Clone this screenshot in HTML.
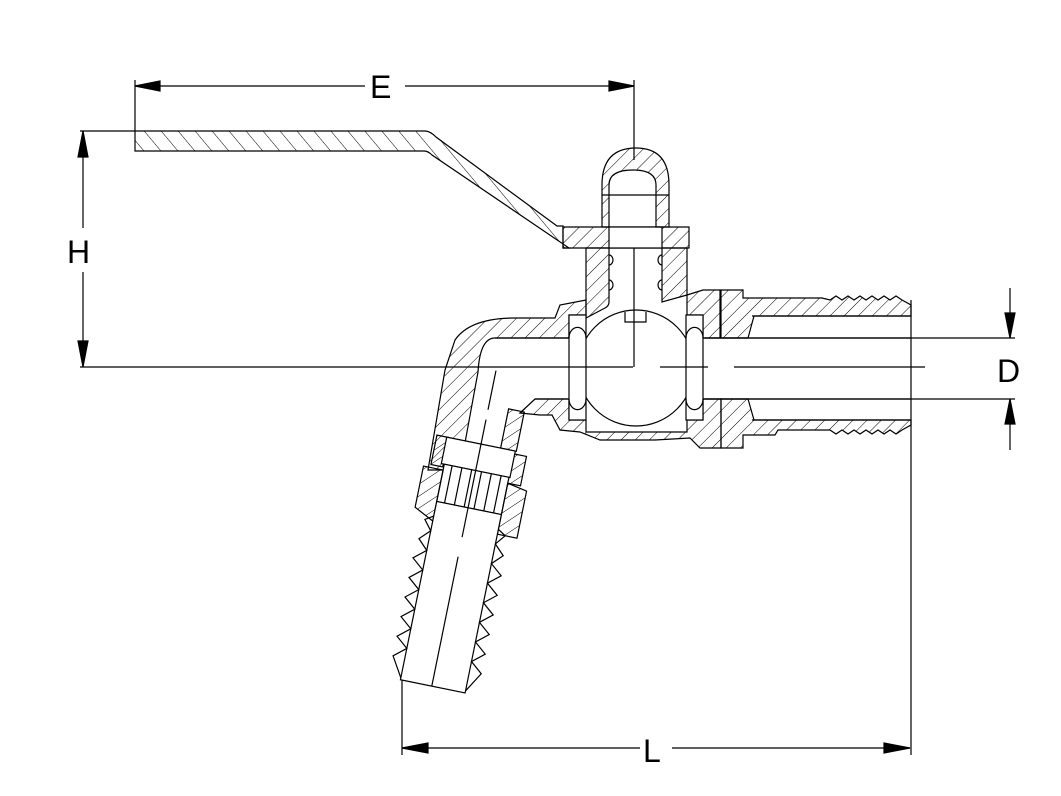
<!DOCTYPE html>
<html><head><meta charset="utf-8"><style>
html,body{margin:0;padding:0;background:#fff;}
svg{display:block;}
text{font-family:"Liberation Sans",sans-serif;font-size:32px;fill:#000;}
</style></head><body>
<svg width="1061" height="796" viewBox="0 0 1061 796" xmlns="http://www.w3.org/2000/svg">
<defs>
<pattern id="hf" width="10" height="10" patternUnits="userSpaceOnUse" patternTransform="rotate(45)">
<line x1="0" y1="0" x2="0" y2="10" stroke="#000" stroke-width="1"/></pattern>
<pattern id="hb" width="13" height="13" patternUnits="userSpaceOnUse" patternTransform="rotate(-40)">
<line x1="0" y1="0" x2="0" y2="13" stroke="#000" stroke-width="1"/></pattern>
</defs>
<g fill="none" stroke="#000" stroke-width="1.2">
<line x1="135" y1="86" x2="365" y2="86"/><line x1="405" y1="86" x2="634" y2="86"/>
<polygon points="135,86 160,81 160,91" fill="#000"/>
<polygon points="634,86 609,81 609,91" fill="#000"/>
<line x1="135" y1="80" x2="135" y2="131"/>
<line x1="634" y1="80" x2="634" y2="160"/>
<line x1="80" y1="131" x2="135" y2="131"/>
<line x1="83" y1="131" x2="83" y2="228"/><line x1="83" y1="272" x2="83" y2="367"/>
<polygon points="83,131 78,157 88,157" fill="#000"/>
<polygon points="83,367 78,341 88,341" fill="#000"/>
<line x1="80" y1="367" x2="460" y2="367"/>
<line x1="705" y1="338" x2="1015" y2="338"/><line x1="705" y1="399" x2="1015" y2="399"/>
<line x1="1010" y1="288" x2="1010" y2="338"/><line x1="1010" y1="399" x2="1010" y2="450"/>
<polygon points="1010,338 1005,313 1015,313" fill="#000"/>
<polygon points="1010,399 1005,424 1015,424" fill="#000"/>
<line x1="402" y1="748" x2="640" y2="748"/><line x1="672" y1="748" x2="910" y2="748"/>
<polygon points="402,748 428,743 428,753" fill="#000"/>
<polygon points="910,748 884,743 884,753" fill="#000"/>
<line x1="911" y1="300" x2="911" y2="755"/>
<line x1="402" y1="676" x2="402" y2="755"/>

<path d="M135,131 H425 Q430,131 436,137 L557,226 H563 V248 H569 L432,155 Q428,151 424,151 H135 Z" fill="url(#hb)"/>
<path d="M563,227 H689 V248 H563 Z" fill="url(#hf)"/>
<rect x="609" y="227" width="53" height="21" fill="#fff"/>
<path d="M602,227 V185 Q602,148 636,148 Q669,148 669,185 V227 H656 V185 Q656,170 633,170 Q609,170 609,185 V227 Z" fill="url(#hf)"/>
<line x1="602" y1="195" x2="669" y2="195"/>
<path d="M586,248 H609 V302 Q609,306 605,308 L586,318 Z" fill="url(#hf)"/>
<path d="M662,248 H687 V295 L662,302 Z" fill="url(#hf)"/>
<path d="M609,255 a4,5 0 0 1 0,10 M609,280 a4,5 0 0 1 0,10"/>
<path d="M662,255 a4,5 0 0 0 0,10 M662,280 a4,5 0 0 0 0,10"/>
<path d="M569,315 H586 L586,300 L560,305 L555,318 H515 Q470,318 455,340 L445,370 L428,470 L460,470 L478,372 Q480,338 495,338 H569 Z" fill="url(#hf)"/>
<path d="M687,295 L703,290 H720 V338 H703 V315 H687 Z" fill="url(#hf)"/>
<path d="M721,290 H743 V298 H778 L800,298 H822 L830,300 L836,296 L842,300 L848,296 L854,300 L860,296 L866,300 L872,296 L878,300 L884,296 L890,300 L896,296 L902,300 L911,305 V316 H754 L748,338 H721 Z" fill="url(#hf)"/>
<path d="M721,399 H748 L754,420 H911 V425 L902,430 L896,434 L890,430 L884,434 L878,430 L872,434 L866,430 L860,434 L854,430 L848,434 L842,430 L836,434 L830,430 L822,430 H778 L775,435 H743 V448 H721 Z" fill="url(#hf)"/>
<path d="M520,413 L535,399 H569 V420 H586 V432 H687 V420 H703 V399 H721 V448 H700 L690,438 L655,440 H600 L580,432 L560,430 L552,415 L540,415 Z" fill="url(#hf)"/>
<line x1="495" y1="338" x2="911" y2="338"/><line x1="535" y1="399" x2="911" y2="399"/>
<line x1="752" y1="316" x2="911" y2="316"/><line x1="752" y1="420" x2="911" y2="420"/>
<circle cx="636" cy="368" r="58" fill="#fff"/>
<rect x="569" y="315" width="17" height="105" fill="#fff"/>
<rect x="686" y="315" width="17" height="105" fill="#fff"/>
<path d="M586,338 a8,10 0 0 0 -17,0 M586,399 a8,10 0 0 1 -17,0"/>
<path d="M703,338 a8,10 0 0 0 -17,0 M703,399 a8,10 0 0 1 -17,0"/>
<path d="M625,312 V322 H646 V312" fill="#fff"/>
<line x1="634" y1="248" x2="634" y2="367"/>
<line x1="460" y1="367" x2="633" y2="367"/><line x1="660" y1="367" x2="708" y2="367"/><line x1="734" y1="367" x2="925" y2="367"/>
<g transform="rotate(11.5 490 400)">
<path d="M510,405 L526,405 L526,445 L510,445 Z" fill="url(#hf)"/>
<path d="M445,445 H457 V475 H445 Z" fill="url(#hf)"/>
<path d="M523,448 H537 V478 H523 Z" fill="url(#hf)"/>
<rect x="455" y="445" width="70" height="27" fill="#fff"/>
<rect x="458" y="472" width="66" height="38" fill="#fff"/>
<line x1="466" y1="472" x2="466" y2="510"/><line x1="476" y1="472" x2="476" y2="510"/><line x1="486" y1="472" x2="486" y2="510"/>
<line x1="496" y1="472" x2="496" y2="510"/><line x1="506" y1="472" x2="506" y2="510"/><line x1="516" y1="472" x2="516" y2="510"/>
<path d="M438,478 L458,478 L458,530 L438,520 Z" fill="url(#hf)"/>
<path d="M524,478 L544,482 L544,530 L524,530 Z" fill="url(#hf)"/>
<rect x="458" y="510" width="66" height="182" fill="#fff"/>
<path d="M458,525 L450,530 L458,540 L448,550 L458,560 L446,570 L458,580 L446,590 L458,600 L446,610 L458,620 L446,630 L458,640 L446,650 L458,660 L446,670 L458,690"/>
<path d="M524,525 L532,530 L524,540 L534,550 L524,560 L536,570 L524,580 L536,590 L524,600 L536,610 L524,620 L536,630 L524,640 L536,650 L524,660 L536,670 L524,690"/>
<line x1="490" y1="420" x2="490" y2="540"/><line x1="490" y1="560" x2="490" y2="692"/>
<line x1="490" y1="370" x2="490" y2="410"/>
</g>
</g>
<text x="370" y="98">E</text>
<text x="67" y="263">H</text>
<text x="997" y="382">D</text>
<text x="643" y="762">L</text>
</svg>
</body></html>
